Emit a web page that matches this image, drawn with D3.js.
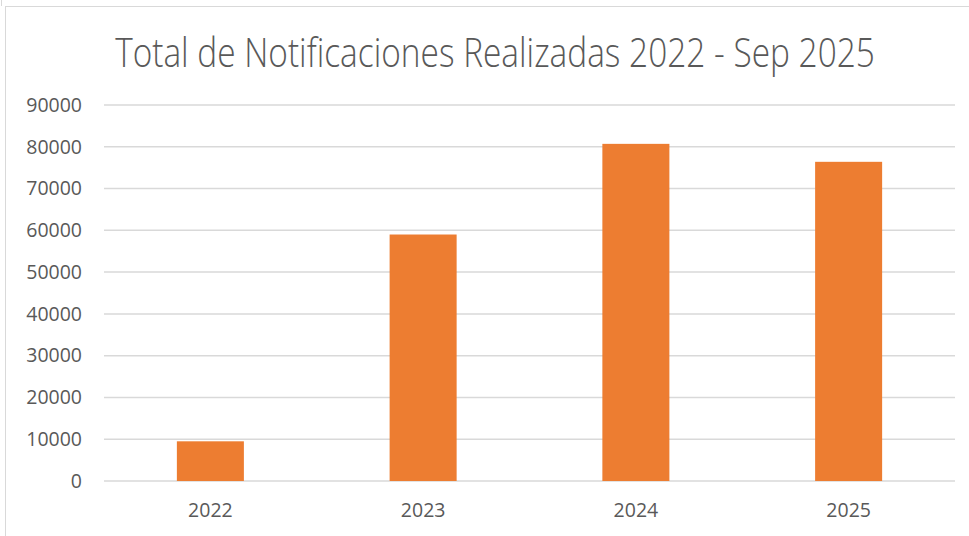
<!DOCTYPE html>
<html>
<head>
<meta charset="utf-8">
<script src="https://cdn.jsdelivr.net/npm/d3@7"></script>
<style>
  body { margin: 0; background: #fff; }
  svg { display: block; font-family: "Open Sans", sans-serif; }
</style>
</head>
<body>
<svg width="969" height="536"></svg>
<script>
var years = ["2022", "2023", "2024", "2025"];
var totals = [9500, 59000, 80700, 76400];
var yTicks = [0, 10000, 20000, 30000, 40000, 50000, 60000, 70000, 80000, 90000];
var chartTitle = "Total de Notificaciones Realizadas 2022 - Sep 2025";

var data = years.map(function (d, i) { return { year: d, value: totals[i] }; });

var svg = d3.select("svg"),
  margin = { top: 105, right: 14, bottom: 55, left: 104 },
  width = +svg.attr("width"),
  height = +svg.attr("height");

// chart frame
svg.append("rect")
  .attr("x", 5.5).attr("y", 6.5)
  .attr("width", 1000).attr("height", 600)
  .attr("fill", "none")
  .attr("stroke", "#d9d9d9");
svg.append("line")
  .attr("x1", 1.5).attr("x2", 1.5).attr("y1", 0).attr("y2", 6)
  .attr("stroke", "#d9d9d9");

var x = d3.scaleBand()
  .domain(years)
  .range([margin.left, width - margin.right])
  .paddingInner(0.685)
  .paddingOuter(0.3425);

var y = d3.scaleLinear()
  .domain([0, 90000])
  .range([height - margin.bottom, margin.top]);

// gridlines
svg.append("g")
  .selectAll("line")
  .data(yTicks)
  .enter().append("line")
  .attr("x1", margin.left)
  .attr("x2", width - margin.right)
  .attr("y1", function (d) { return y(d); })
  .attr("y2", function (d) { return y(d); })
  .attr("stroke", "#d9d9d9")
  .attr("stroke-width", 1.5);

// bars
svg.append("g")
  .selectAll("rect")
  .data(data)
  .enter().append("rect")
  .attr("x", function (d) { return x(d.year); })
  .attr("width", x.bandwidth())
  .attr("y", function (d) { return y(d.value); })
  .attr("height", function (d) { return y(0) - y(d.value); })
  .attr("fill", "#ed7d31");

// y axis labels
var yAxis = svg.append("g")
  .attr("transform", "translate(" + (margin.left - 22) + ",0)")
  .call(d3.axisLeft(y).tickValues(yTicks).tickFormat(d3.format("d")).tickSize(0).tickPadding(0));
yAxis.select(".domain").remove();
yAxis.selectAll("text")
  .attr("fill", "#595959")
  .style("font-size", "19.5px")
  .style("font-family", "'Open Sans', sans-serif");

// x axis labels
var xAxis = svg.append("g")
  .attr("transform", "translate(0," + y(0) + ")")
  .call(d3.axisBottom(x).tickSize(0).tickPadding(22));
xAxis.select(".domain").remove();
xAxis.selectAll("text")
  .attr("fill", "#595959")
  .style("font-size", "19.5px")
  .style("font-family", "'Open Sans', sans-serif");

// title
var title = svg.append("text")
  .attr("text-anchor", "middle")
  .attr("fill", "#595959")
  .style("font-size", "40px")
  .style("font-weight", 300)
  .text(chartTitle);
var tw = title.node().getComputedTextLength();
var sx = 760 / tw;
title.attr("transform", "translate(495,67) scale(" + sx + ",1)");
</script>
</body>
</html>
